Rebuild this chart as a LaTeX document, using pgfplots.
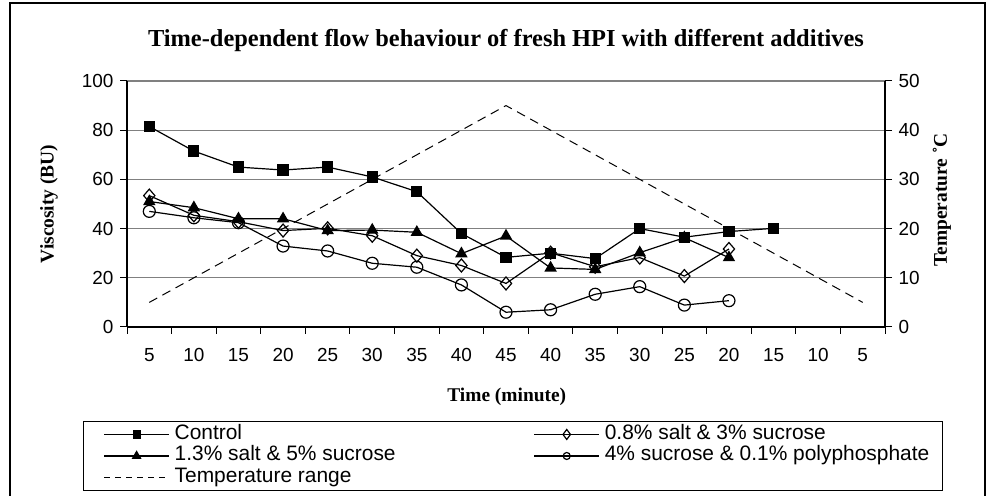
\documentclass[border=0pt]{standalone}
\usepackage{fontspec}
\setmainfont{Liberation Serif}
\newfontfamily\arialf{Liberation Sans}
\usepackage{pgfplots}
\pgfplotsset{compat=1.18}
\newcommand\tickfont{\fontsize{19}{21}\selectfont\arialf}
\newcommand\legfont{\fontsize{21}{23}\selectfont\arialf}
\newcommand\labfont{\fontsize{19.5}{22}\selectfont\bfseries}
\newcommand\titfont{\fontsize{24.5}{28}\selectfont\bfseries}
\begin{document}
\begin{tikzpicture}[x=1bp,y=1bp]
\useasboundingbox (0,0) rectangle (987,496);
\draw[line width=1.2bp] (10,0) -- (10,493) -- (985,493) -- (985,0);
\begin{axis}[
  at={(127bp,169bp)}, anchor=south west,
  width=758bp, height=246bp, scale only axis,
  xmin=-0.5, xmax=16.5, ymin=0, ymax=100,
  axis x line*=bottom, axis y line*=left,
  axis line style={-, black, line width=1.2bp},
  xtick={-0.5,0.5,...,16.5},
  x tick label as interval,
  xticklabels={5,10,15,20,25,30,35,40,45,40,35,30,25,20,15,10,5},
  ytick={0,20,...,100},
  ymajorgrids, grid style={gray, line width=1.2bp},
  tick align=outside, major tick length=7bp,
  tick style={black, line width=1bp},
  tick label style={font=\tickfont},
  /pgf/number format/assume math mode=true,
  xticklabel style={anchor=center, yshift=-21bp},
  yticklabel style={xshift=-3bp},
  title={Time-dependent flow behaviour of fresh HPI with different additives},
  title style={font=\titfont, at={(axis description cs:0.5,1.14)}, anchor=center},
  xlabel={Time (minute)},
  xlabel style={font=\labfont, at={(axis description cs:0.501,-0.283)}, anchor=center},
  ylabel={Viscosity (BU)},
  ylabel style={font=\labfont, at={(axis description cs:-0.103,0.5)}, anchor=center},
  legend columns=2, legend cell align=left,
  legend image code/.code={\path (0bp,0bp); \draw[#1, mark repeat=2, mark phase=2] plot coordinates {(12bp,0bp) (44.5bp,0bp) (77bp,0bp)};},
  legend style={at={(axis description cs:-0.05805,-0.3821)}, anchor=north west,
    draw=black, line width=1bp, font=\legfont, inner xsep=8bp, inner ysep=3bp,
    nodes={inner xsep=5bp, inner ysep=1bp, text height=14bp, text depth=4bp},
    row sep=1.5bp,
    /tikz/every even column/.append style={column sep=121bp}},
]
\addplot[black, line width=1.2bp, mark=square*, mark size=5bp, forget plot] coordinates {
(0,81.5) (1,71.5) (2,65) (3,63.8) (4,65) (5,61) (6,55) (7,38) (8,28.3) (9,30) (10,27.8) (11,40) (12,36.5) (13,38.8) (14,40.1)};
\addplot[black, line width=1.2bp, mark=diamond, mark size=6.5bp, mark options={fill=white, xscale=1.15}, forget plot] coordinates {
(0,53.4) (1,45.4) (2,42.8) (3,39.2) (4,40.1) (5,37.1) (6,29) (7,25) (8,17.7) (9,30.2) (10,24.5) (11,28.2) (12,20.7) (13,31.7)};
\addplot[black, line width=1.2bp, mark=triangle*, mark size=6bp, forget plot] coordinates {
(0,51) (1,48.5) (2,44) (3,44) (4,39.2) (5,39.4) (6,38.5) (7,29.8) (8,37) (9,24) (10,23.4) (11,30.2) (12,36.3) (13,28.2)};
\addplot[black, line width=1.2bp, mark=o, mark size=6bp, mark options={fill=white}, forget plot] coordinates {
(0,47) (1,44.4) (2,42.4) (3,32.9) (4,30.9) (5,25.9) (6,24.3) (7,17.1) (8,6) (9,7) (10,13.3) (11,16.4) (12,8.9) (13,10.7)};
\addlegendimage{black, line width=1.2bp, mark=square*, mark size=3.5bp}
\addlegendentry{Control}
\addlegendimage{black, line width=1.2bp, mark=diamond, mark size=5bp, mark options={fill=white}}
\addlegendentry{0.8\% salt \& 3\% sucrose}
\addlegendimage{black, line width=1.2bp, mark=triangle*, mark size=4.5bp}
\addlegendentry{1.3\% salt \& 5\% sucrose}
\addlegendimage{black, line width=1.2bp, mark=o, mark size=3.5bp, mark options={fill=white}}
\addlegendentry{4\% sucrose \& 0.1\% polyphosphate}
\addlegendimage{black, line width=1bp, dash pattern=on 6bp off 5bp}
\addlegendentry{Temperature range}
\end{axis}
\begin{axis}[
  at={(127bp,169bp)}, anchor=south west,
  width=758bp, height=246bp, scale only axis,
  xmin=-0.5, xmax=16.5, ymin=0, ymax=50,
  axis y line*=right, axis x line=none,
  axis line style={-, black, line width=1.2bp},
  ytick={0,10,...,50},
  tick align=outside, major tick length=7bp,
  tick style={black, line width=1bp},
  tick label style={font=\tickfont},
  yticklabel style={xshift=3bp},
  /pgf/number format/assume math mode=true,
  ylabel={Temperature ˚C},
  ylabel style={font=\labfont, at={(axis description cs:1.075,0.516)}, anchor=center},
]
\addplot[black, line width=1bp, dash pattern=on 9bp off 6bp] coordinates {
(0,5) (1,10) (2,15) (3,20) (4,25) (5,30) (6,35) (7,40) (8,45) (9,40) (10,35) (11,30) (12,25) (13,20) (14,15) (15,10) (16,5)};
\end{axis}
\end{tikzpicture}
\end{document}
